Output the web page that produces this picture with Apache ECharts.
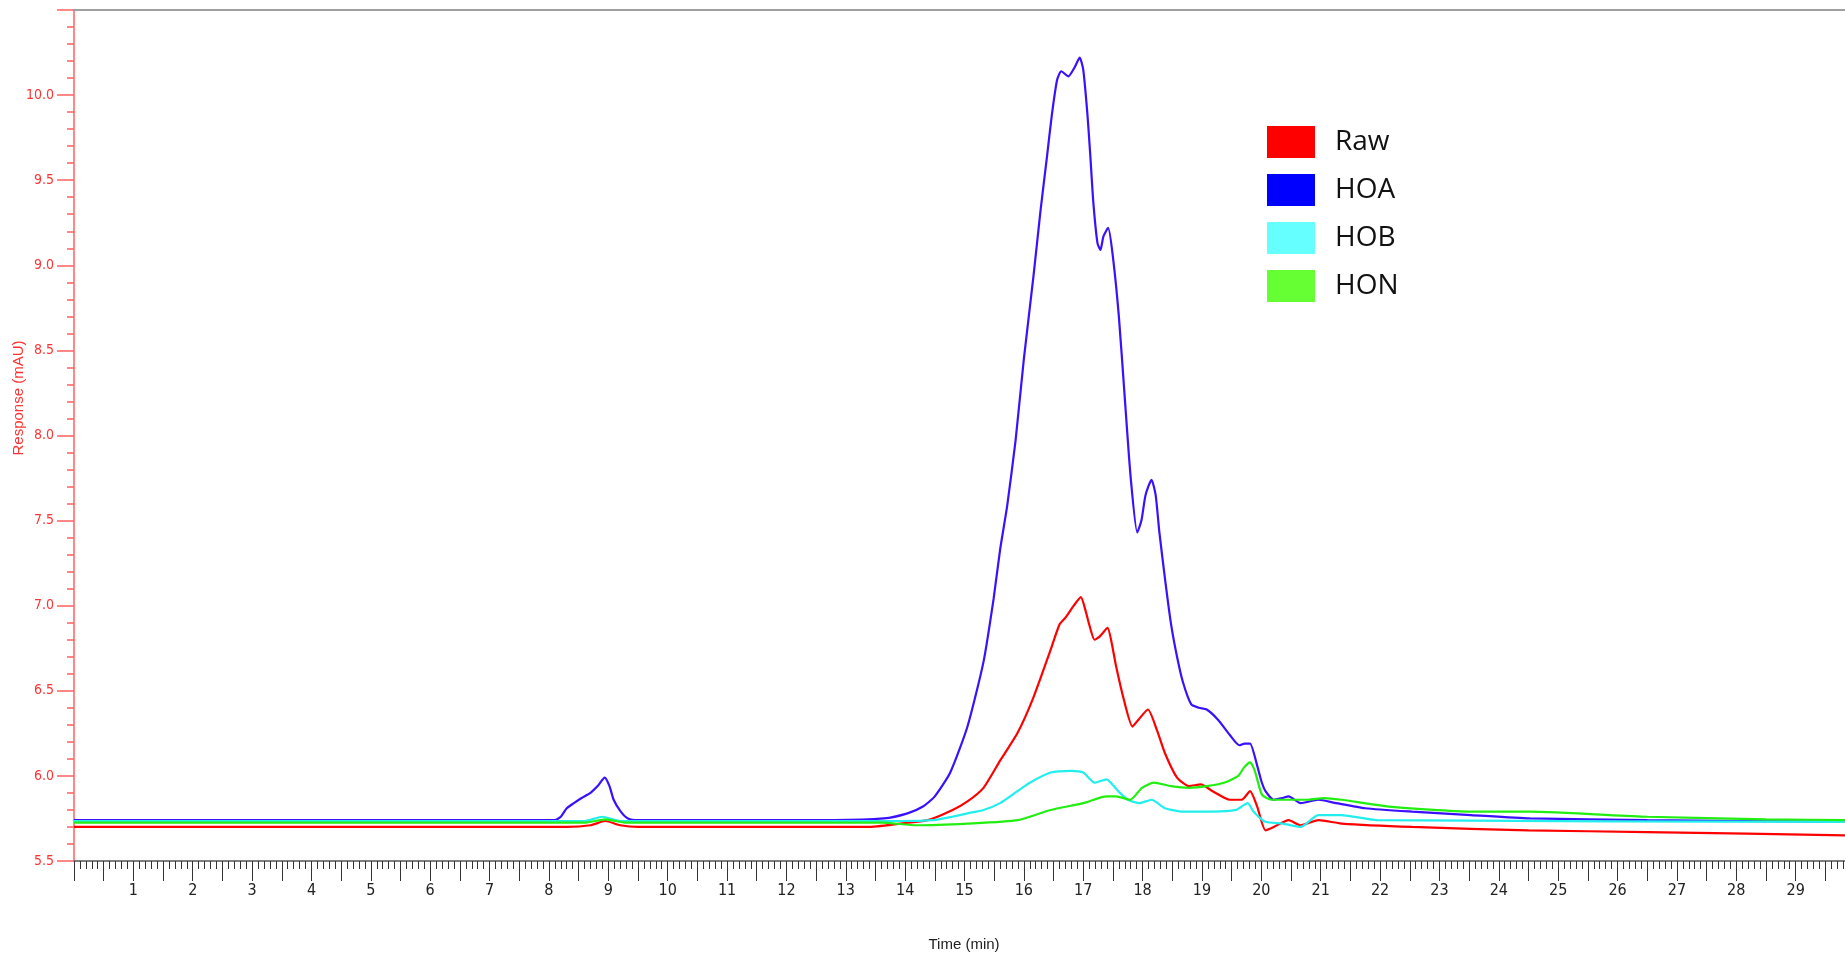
<!DOCTYPE html>
<html>
<head>
<meta charset="utf-8">
<title>Chromatogram</title>
<script src="https://cdn.jsdelivr.net/npm/echarts@6/dist/echarts.min.js"></script>
<style>
  html, body { margin: 0; padding: 0; background: #ffffff; overflow: hidden; }
  #chart { width: 1845px; height: 959px; }
</style>
</head>
<body>
<div id="chart"></div>
<script>
// Retention times (min) and detector response (mAU) for each fraction
const rawTime = [0, 8.3, 8.7, 8.95, 9.2, 9.5, 13.37, 13.92, 14.38, 14.8, 15.05, 15.32, 15.6, 15.89, 16.16, 16.45, 16.6, 16.7, 16.84, 16.96, 17.04, 17.1, 17.19, 17.28, 17.41, 17.48, 17.55, 17.69, 17.83, 17.93, 18.09, 18.24, 18.38, 18.58, 18.78, 18.98, 19.18, 19.47, 19.67, 19.81, 19.93, 20.07, 20.21, 20.46, 20.66, 20.96, 21.35, 22.54, 24.5, 26.5, 30];
const rawResp = [5.70, 5.70, 5.71, 5.735, 5.71, 5.70, 5.70, 5.72, 5.74, 5.80, 5.85, 5.93, 6.09, 6.25, 6.46, 6.74, 6.89, 6.93, 7.00, 7.05, 6.97, 6.89, 6.80, 6.82, 6.87, 6.78, 6.65, 6.44, 6.29, 6.33, 6.39, 6.27, 6.13, 5.99, 5.94, 5.95, 5.91, 5.86, 5.86, 5.91, 5.82, 5.68, 5.70, 5.74, 5.71, 5.74, 5.72, 5.70, 5.68, 5.67, 5.65];

const hoaTime = [0, 8.1, 8.2, 8.3, 8.42, 8.55, 8.7, 8.82, 8.94, 9.02, 9.09, 9.21, 9.33, 9.5, 12.8, 13.64, 14.04, 14.3, 14.5, 14.76, 15.05, 15.32, 15.49, 15.6, 15.72, 15.86, 16.0, 16.16, 16.28, 16.39, 16.47, 16.56, 16.63, 16.75, 16.85, 16.94, 17.0, 17.07, 17.12, 17.17, 17.24, 17.29, 17.34, 17.42, 17.5, 17.6, 17.7, 17.8, 17.91, 17.98, 18.05, 18.15, 18.22, 18.28, 18.38, 18.48, 18.58, 18.68, 18.82, 18.95, 19.08, 19.27, 19.47, 19.63, 19.72, 19.81, 19.93, 20.0, 20.07, 20.21, 20.35, 20.46, 20.66, 20.96, 21.26, 21.75, 22.54, 23.53, 24.52, 26.5, 30];
const hoaResp = [5.74, 5.74, 5.76, 5.81, 5.84, 5.87, 5.90, 5.94, 5.99, 5.94, 5.86, 5.79, 5.75, 5.74, 5.74, 5.75, 5.78, 5.82, 5.88, 6.02, 6.29, 6.67, 7.04, 7.33, 7.59, 7.97, 8.45, 8.93, 9.32, 9.64, 9.88, 10.09, 10.14, 10.11, 10.16, 10.22, 10.15, 9.89, 9.64, 9.37, 9.13, 9.09, 9.17, 9.22, 9.05, 8.70, 8.22, 7.75, 7.43, 7.50, 7.65, 7.74, 7.65, 7.44, 7.15, 6.89, 6.70, 6.55, 6.42, 6.40, 6.39, 6.33, 6.24, 6.18, 6.19, 6.19, 6.06, 5.97, 5.91, 5.86, 5.87, 5.88, 5.84, 5.86, 5.84, 5.81, 5.79, 5.77, 5.75, 5.74, 5.73];

const hobTime = [0, 8.6, 8.9, 9.2, 13.9, 14.48, 14.8, 15.05, 15.32, 15.6, 15.89, 16.1, 16.45, 16.8, 17.0, 17.19, 17.39, 17.59, 17.75, 17.95, 18.15, 18.38, 18.68, 19.18, 19.57, 19.77, 19.87, 20.07, 20.36, 20.66, 20.96, 21.35, 21.95, 30];
const hobResp = [5.735, 5.735, 5.76, 5.735, 5.735, 5.74, 5.76, 5.78, 5.80, 5.84, 5.91, 5.96, 6.02, 6.03, 6.02, 5.96, 5.98, 5.91, 5.86, 5.84, 5.86, 5.81, 5.79, 5.79, 5.80, 5.84, 5.79, 5.73, 5.72, 5.70, 5.77, 5.77, 5.74, 5.73];

const honTime = [0, 8.6, 8.95, 9.3, 13.6, 14.2, 15.05, 15.9, 16.45, 17.0, 17.39, 17.55, 17.79, 17.99, 18.19, 18.48, 18.78, 19.08, 19.37, 19.61, 19.71, 19.81, 19.89, 20.01, 20.17, 20.76, 21.06, 21.35, 22.15, 23.53, 24.52, 26.5, 28.5, 30];
const honResp = [5.725, 5.725, 5.745, 5.725, 5.725, 5.71, 5.72, 5.74, 5.80, 5.84, 5.88, 5.88, 5.86, 5.93, 5.96, 5.94, 5.93, 5.94, 5.96, 6.00, 6.05, 6.08, 6.03, 5.89, 5.86, 5.86, 5.87, 5.86, 5.82, 5.79, 5.79, 5.76, 5.745, 5.74];

const seriesNames = ['Raw', 'HOA', 'HOB', 'HON'];
const legendColors = ['#ff0000', '#0000ff', '#66ffff', '#66ff33'];
const lineColors = ['#ff0000', '#3a10ff', '#22eeee', '#22ee11'];

const pairs = (t, v) => t.map((x, i) => [x, v[i]]);
const seriesData = [pairs(rawTime, rawResp), pairs(hoaTime, hoaResp), pairs(hobTime, hobResp), pairs(honTime, honResp)];

const chart = echarts.init(document.getElementById('chart'), null, { renderer: 'canvas' });

const yRed = '#ff3333';
const yLine = '#ff6060';
const tickFont = '"DejaVu Sans Condensed", "Liberation Sans", sans-serif';

chart.setOption({
  animation: false,
  backgroundColor: '#ffffff',
  // the time axis runs to 30 min, a little past the right edge of the page
  grid: { left: 74, width: 1781, top: 10, bottom: 98, containLabel: false, outerBoundsMode: 'none' },
  legend: {
    orient: 'vertical',
    left: 1267,
    top: 126,
    padding: 0,
    itemWidth: 48,
    itemHeight: 32,
    itemGap: 16,
    icon: 'rect',
    textStyle: { fontFamily: 'Open Sans', fontSize: 28, color: '#111111', padding: [0, 0, 0, 15] },
    data: seriesNames.map((n, i) => ({ name: n, itemStyle: { color: legendColors[i] } }))
  },
  xAxis: [{
    type: 'value',
    min: 0,
    max: 30,
    interval: 0.5,
    axisLine: { lineStyle: { color: '#555555', width: 1.5 } },
    axisTick: { show: true, length: 20, lineStyle: { color: '#333333', width: 1 } },
    minorTick: { show: true, splitNumber: 5, length: 8, lineStyle: { color: '#333333', width: 1 } },
    splitLine: { show: false },
    axisLabel: {
      margin: 22,
      color: '#222222',
      fontFamily: tickFont,
      fontSize: 16,
      showMaxLabel: false,
      formatter: v => (Math.abs(v - Math.round(v)) < 1e-6 && v > 0) ? String(Math.round(v)) : ''
    }
  }, {
    type: 'value',
    position: 'top',
    min: 0,
    max: 30,
    axisLine: { show: true, lineStyle: { color: '#a0a0a0', width: 2 } },
    axisTick: { show: false },
    axisLabel: { show: false },
    splitLine: { show: false }
  }],
  yAxis: {
    type: 'value',
    min: 5.5,
    max: 10.5,
    interval: 0.5,
    axisLine: { show: true, lineStyle: { color: yLine, width: 1.5 } },
    axisTick: { show: true, length: 17, lineStyle: { color: yLine, width: 1.5 } },
    minorTick: { show: true, splitNumber: 5, length: 7, lineStyle: { color: yLine, width: 1.5 } },
    splitLine: { show: false },
    axisLabel: {
      margin: 20,
      color: yRed,
      fontFamily: tickFont,
      fontSize: 14,
      showMaxLabel: false,
      formatter: v => v.toFixed(1)
    }
  },
  graphic: [
    {
      type: 'text',
      x: 19,
      y: 398,
      rotation: Math.PI / 2,
      style: { text: 'Response (mAU)', fill: yRed, font: '15px "Liberation Sans"', align: 'center', verticalAlign: 'middle' }
    },
    {
      type: 'text',
      x: 964,
      y: 945,
      style: { text: 'Time (min)', fill: '#222222', font: '15px "Liberation Sans"', align: 'center', verticalAlign: 'middle' }
    }
  ],
  series: seriesNames.map((n, i) => ({
    name: n,
    type: 'line',
    xAxisIndex: 0,
    data: seriesData[i],
    showSymbol: false,
    symbol: 'none',
    smooth: 0.2,
    itemStyle: { color: legendColors[i] },
    lineStyle: { color: lineColors[i], width: 2.2 },
    z: 2 + i
  }))
});
</script>
</body>
</html>
